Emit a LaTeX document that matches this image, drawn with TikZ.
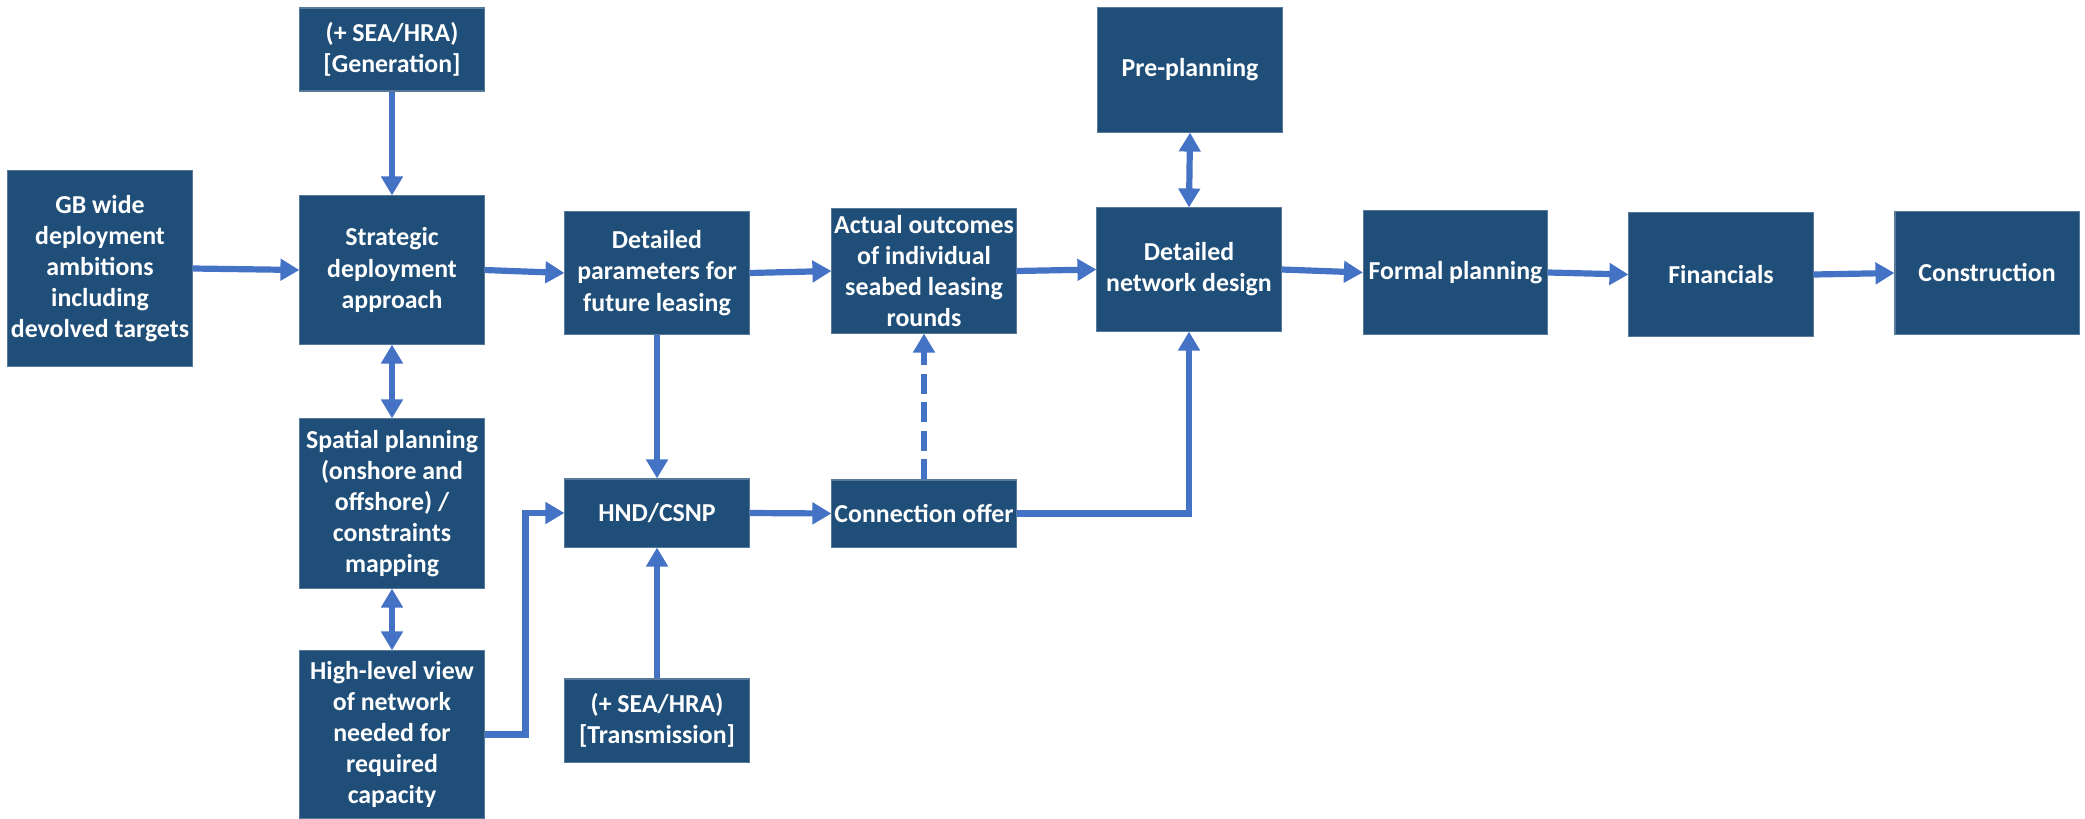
\documentclass[tikz,border=0pt]{standalone}
\usepackage{fontspec}
\setmainfont{Carlito}
\usetikzlibrary{arrows.meta}
\definecolor{boxblue}{RGB}{31,78,121}
\definecolor{arrowblue}{RGB}{68,114,196}
\begin{document}
\begin{tikzpicture}[x=0.01cm,y=-0.01cm,
  box/.style={fill=boxblue, draw=boxblue!75!white, line width=0.3pt, text=white,
    font=\fontsize{7.35}{8.85}\selectfont\bfseries, align=center, inner sep=0pt,
    minimum width=1.84cm},
  tip/.tip={Triangle[width=0.21cm,length=0.19cm]},
  conn/.style={draw=arrowblue, line width=0.062cm, -tip},
  biconn/.style={draw=arrowblue, line width=0.062cm, tip-tip},
  dconn/.style={conn, dash pattern=on 0.2cm off 0.085cm}
]
\useasboundingbox (0,0) rectangle (2085,818);

\node[box, minimum height=1.95cm] (gb) at (100,268.5) {GB wide\\deployment\\ambitions\\including\\devolved targets};
\node[box, minimum height=0.83cm] (gen) at (392,49.5) {(+ SEA/HRA)\\{[}Generation{]}};
\node[box, minimum height=1.48cm] (strat) at (392,270) {Strategic\\deployment\\approach};
\node[box, minimum height=1.69cm] (spat) at (392,503.5) {Spatial planning\\(onshore and\\offshore) /\\constraints\\mapping};
\node[box, minimum height=1.67cm] (hl) at (392,734.5) {High-level view\\of network\\needed for\\required\\capacity};
\node[box, minimum height=1.22cm] (dp) at (657,273) {Detailed\\parameters for\\future leasing};
\node[box, minimum height=0.68cm] (hnd) at (657,513) {HND/CSNP};
\node[box, minimum height=0.83cm] (trans) at (657,720.5) {(+ SEA/HRA)\\{[}Transmission{]}};
\node[box, minimum height=1.24cm] (ao) at (924,271) {Actual outcomes\\of individual\\seabed leasing\\rounds};
\node[box, minimum height=0.67cm] (co) at (924,513.5) {Connection offer};
\node[box, minimum height=1.24cm] (pre) at (1190,70) {Pre-planning};
\node[box, minimum height=1.23cm] (dnd) at (1189,269.5) {Detailed\\network design};
\node[box, minimum height=1.23cm] (fp) at (1455.5,272.5) {Formal planning};
\node[box, minimum height=1.23cm] (fin) at (1721,274.5) {Financials};
\node[box, minimum height=1.22cm] (cons) at (1987,273) {Construction};

\draw[conn] (gb.east) -- (strat.west);
\draw[conn] (gen.south) -- (strat.north);
\draw[biconn] (strat.south) -- (spat.north);
\draw[biconn] (spat.south) -- (hl.north);
\draw[conn] (strat.east) -- (dp.west);
\draw[conn] (dp.east) -- (ao.west);
\draw[conn] (ao.east) -- (dnd.west);
\draw[conn] (dp.south) -- (hnd.north);
\draw[conn] (trans.north) -- (hnd.south);
\draw[conn] (hl.east) -- ++(41,0) |- (hnd.west);
\draw[conn] (hnd.east) -- (co.west);
\draw[dconn] (co.north) -- (ao.south);
\draw[conn] (co.east) -| (dnd.south);
\draw[biconn] (pre.south) -- (dnd.north);
\draw[conn] (dnd.east) -- (fp.west);
\draw[conn] (fp.east) -- (fin.west);
\draw[conn] (fin.east) -- (cons.west);
\end{tikzpicture}
\end{document}
